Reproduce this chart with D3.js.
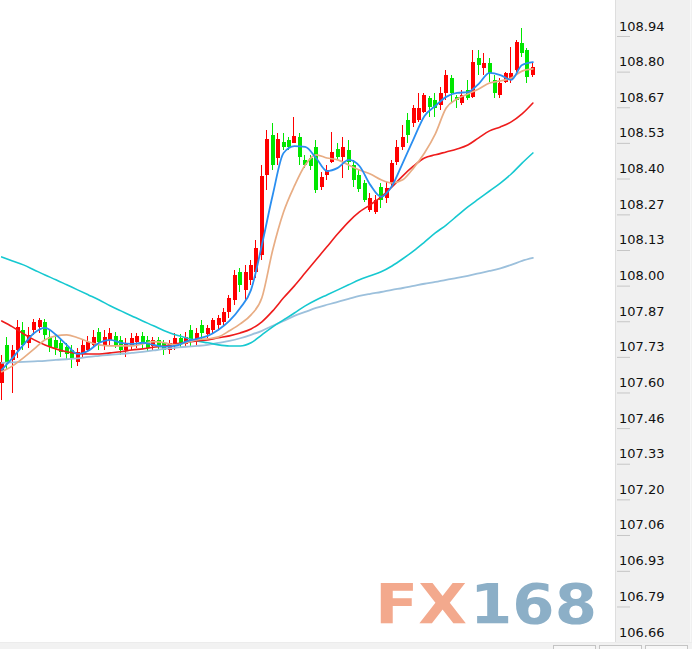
<!DOCTYPE html>
<html><head><meta charset="utf-8">
<script src="https://cdn.jsdelivr.net/npm/d3@7"></script>
<style>html,body{margin:0;padding:0;background:#fff;overflow:hidden}</style>
</head><body><svg id="c" width="692" height="649"></svg>
<script>
// ---- candle data (USD/JPY style, 99 bars) ----
const opens = [107.635,107.778,107.722,107.759,107.835,107.786,107.835,107.846,107.865,107.808,
107.797,107.786,107.771,107.759,107.714,107.748,107.759,107.778,107.827,107.778,
107.797,107.812,107.797,107.759,107.774,107.790,107.812,107.797,107.774,107.797,
107.786,107.759,107.774,107.805,107.782,107.835,107.797,107.853,107.820,107.835,
107.853,107.865,107.902,107.947,108.053,107.985,108.023,108.053,108.117,108.417,
108.568,108.481,108.541,108.549,108.538,108.560,108.474,108.481,108.523,108.372,
108.417,108.466,108.515,108.485,108.511,108.455,108.417,108.387,108.286,108.278,
108.372,108.331,108.387,108.466,108.523,108.624,108.613,108.624,108.654,108.707,
108.699,108.681,108.726,108.782,108.711,108.688,108.737,108.711,108.857,108.820,
108.838,108.775,108.718,108.767,108.775,108.812,108.914,108.887,108.793];
const highs = [107.741,107.808,107.778,107.872,107.865,107.846,107.876,107.880,107.876,107.835,
107.816,107.805,107.786,107.778,107.767,107.797,107.812,107.835,107.842,107.835,
107.842,107.827,107.812,107.805,107.823,107.823,107.827,107.812,107.808,107.808,
107.797,107.797,107.823,107.820,107.827,107.853,107.842,107.872,107.853,107.880,
107.891,107.917,107.966,108.060,108.068,108.079,108.098,108.173,108.455,108.587,
108.613,108.575,108.575,108.560,108.635,108.575,108.493,108.493,108.549,108.429,
108.455,108.579,108.538,108.560,108.549,108.474,108.436,108.399,108.350,108.342,
108.387,108.391,108.474,108.549,108.605,108.650,108.681,108.726,108.726,108.714,
108.726,108.748,108.812,108.793,108.718,108.737,108.775,108.887,108.887,108.876,
108.857,108.793,108.782,108.805,108.899,108.925,108.970,108.895,108.842];
const lows = [107.571,107.684,107.598,107.729,107.759,107.767,107.816,107.823,107.797,107.752,
107.741,107.733,107.722,107.692,107.699,107.729,107.752,107.767,107.759,107.759,
107.778,107.767,107.741,107.733,107.759,107.767,107.767,107.752,107.759,107.759,
107.741,107.744,107.759,107.767,107.771,107.771,107.778,107.797,107.805,107.823,
107.835,107.853,107.880,107.929,107.978,107.947,108.004,108.030,108.098,108.361,
108.436,108.455,108.511,108.511,108.538,108.455,108.444,108.436,108.350,108.361,
108.399,108.462,108.474,108.406,108.436,108.372,108.354,108.316,108.278,108.271,
108.293,108.312,108.372,108.455,108.511,108.538,108.598,108.617,108.650,108.635,
108.635,108.662,108.699,108.688,108.669,108.681,108.699,108.707,108.793,108.793,
108.767,108.707,108.707,108.763,108.763,108.805,108.861,108.763,108.786];
const closes = [107.714,107.714,107.759,107.846,107.778,107.816,107.865,107.872,107.816,107.771,
107.767,107.752,107.744,107.729,107.752,107.778,107.790,107.808,107.790,107.808,
107.823,107.778,107.759,107.786,107.805,107.812,107.782,107.767,107.797,107.771,
107.759,107.786,107.805,107.786,107.808,107.790,107.823,107.823,107.842,107.872,
107.880,107.902,107.955,108.041,108.004,108.053,108.079,108.143,108.414,108.553,
108.455,108.553,108.523,108.523,108.564,108.485,108.455,108.451,108.361,108.410,
108.436,108.504,108.485,108.523,108.466,108.399,108.365,108.323,108.331,108.323,
108.323,108.369,108.462,108.523,108.560,108.568,108.669,108.669,108.718,108.673,
108.669,108.726,108.793,108.726,108.699,108.718,108.707,108.842,108.831,108.838,
108.801,108.726,108.763,108.801,108.801,108.917,108.876,108.786,108.823];

// ---- moving averages, read at every second bar ----
const maIndex = [0,2,4,6,8,10,12,14,16,18,20,22,24,26,28,30,32,34,36,38,40,42,44,46,48,
50,52,54,56,58,60,62,64,66,68,70,72,74,76,78,80,82,84,86,88,90,92,94,96,98];
const ma5 = [107.684,107.729,107.778,107.823,107.842,107.816,107.778,107.744,107.756,107.786,
107.797,107.786,107.782,107.786,107.778,107.771,107.774,107.790,107.801,107.812,
107.835,107.868,107.917,107.985,108.154,108.342,108.500,108.526,108.523,108.481,
108.432,108.444,108.474,108.451,108.380,108.335,108.376,108.463,108.553,108.639,
108.677,108.711,108.726,108.729,108.760,108.801,108.793,108.775,108.831,108.842];
const ma10 = [107.677,107.699,107.729,107.763,107.797,107.812,107.816,107.805,107.790,107.778,
107.774,107.774,107.774,107.782,107.790,107.786,107.778,107.786,107.797,107.801,
107.808,107.831,107.857,107.891,107.955,108.135,108.278,108.376,108.455,108.493,
108.481,108.474,108.455,108.436,108.421,108.399,108.387,108.399,108.444,108.500,
108.572,108.669,108.703,108.722,108.741,108.763,108.771,108.782,108.808,108.816];
const ma20 = [107.868,107.846,107.820,107.797,107.778,107.763,107.752,107.746,107.744,107.744,
107.748,107.752,107.759,107.763,107.769,107.774,107.782,107.788,107.793,107.797,
107.805,107.812,107.823,107.838,107.865,107.906,107.955,108.000,108.049,108.098,
108.147,108.196,108.241,108.278,108.305,108.335,108.372,108.414,108.451,108.481,
108.493,108.504,108.515,108.530,108.557,108.583,108.598,108.617,108.647,108.688];
const ma60 = [108.109,108.094,108.079,108.060,108.041,108.023,108.004,107.985,107.966,107.947,
107.925,107.906,107.887,107.868,107.850,107.831,107.816,107.805,107.793,107.786,
107.778,107.774,107.774,107.786,107.816,107.846,107.872,107.898,107.925,107.947,
107.966,107.985,108.004,108.023,108.038,108.053,108.075,108.102,108.132,108.165,
108.199,108.229,108.263,108.297,108.327,108.357,108.387,108.421,108.462,108.500];
const ma120 = [107.710,107.712,107.714,107.716,107.718,107.722,107.724,107.727,107.733,107.737,
107.741,107.744,107.748,107.752,107.757,107.763,107.767,107.771,107.774,107.778,
107.786,107.793,107.803,107.816,107.831,107.850,107.868,107.887,107.902,107.917,
107.929,107.940,107.951,107.962,107.970,107.977,107.985,107.992,108.000,108.008,
108.015,108.023,108.030,108.038,108.047,108.056,108.066,108.079,108.094,108.105];

// ---- price axis ----
const tickValues = [108.940,108.806,108.672,108.538,108.404,108.269,108.135,108.001,107.867,
107.733,107.599,107.465,107.331,107.197,107.063,106.928,106.794,106.660];
const tickLabels = ["108.94","108.80","108.67","108.53","108.40","108.27","108.13","108.00","107.87",
"107.73","107.60","107.46","107.33","107.20","107.06","106.93","106.79","106.66"];

const W = 692, H = 649;
const svg = d3.select("#c");
svg.append("rect").attr("width", W).attr("height", H).attr("fill", "#fff");

const y = d3.scaleLinear().domain([106.66, 108.94]).range([642.1, 36]);
const x = d3.scaleLinear().domain([0, 98]).range([1.7, 532.9]);
const bars = opens.map((d, i) => i);

// watermark
const wm = svg.append("g").style("font-family", "'DejaVu Sans', sans-serif").style("font-weight", "bold");
wm.append("text").attr("x", 375).attr("y", 623).attr("font-size", 55)
  .attr("textLength", 92).attr("lengthAdjust", "spacingAndGlyphs")
  .attr("fill", "#f3a98d").text("FX");
wm.append("text").attr("x", 470).attr("y", 623).attr("font-size", 55)
  .attr("textLength", 127).attr("lengthAdjust", "spacingAndGlyphs")
  .attr("fill", "#8cafc7").text("168");

// candles
const UP = "#ff0000", DOWN = "#00e600";
const cg = svg.append("g").attr("shape-rendering", "crispEdges");
const cs = cg.selectAll("g.c").data(bars).join("g").attr("class", "c");
cs.append("line")
  .attr("x1", i => Math.round(x(i)) - 0.5).attr("x2", i => Math.round(x(i)) - 0.5)
  .attr("y1", i => y(highs[i])).attr("y2", i => y(lows[i]))
  .attr("stroke", i => closes[i] >= opens[i] ? UP : DOWN).attr("stroke-width", 1);
cs.append("rect")
  .attr("x", i => Math.round(x(i)) - 2).attr("width", 4)
  .attr("y", i => y(Math.max(opens[i], closes[i])))
  .attr("height", i => Math.max(1, Math.abs(y(opens[i]) - y(closes[i]))))
  .attr("fill", i => closes[i] >= opens[i] ? UP : DOWN);

// moving average lines
const line = d3.line().x((d, k) => x(maIndex[k])).y(d => y(d)).curve(d3.curveMonotoneX);
const maDefs = [
  {v: ma120, c: "#9cc0dc", w: 1.8},
  {v: ma60, c: "#16c8d0", w: 1.6},
  {v: ma20, c: "#ee1c1c", w: 1.6},
  {v: ma10, c: "#e8ad84", w: 1.7},
  {v: ma5, c: "#2a8ef0", w: 1.8}
];
svg.append("g").selectAll("path").data(maDefs).join("path")
  .attr("d", d => line(d.v)).attr("fill", "none")
  .attr("stroke", d => d.c).attr("stroke-width", d => d.w)
  .attr("stroke-linejoin", "round").attr("stroke-linecap", "round");

// right price panel
svg.append("rect").attr("x", 615).attr("y", 0).attr("width", 77).attr("height", H).attr("fill", "#f0f0f0");
svg.append("line").attr("x1", 615.5).attr("x2", 615.5).attr("y1", 0).attr("y2", H)
  .attr("stroke", "#dedede").attr("stroke-width", 1);
svg.append("line").attr("x1", 690.5).attr("x2", 690.5).attr("y1", 0).attr("y2", H)
  .attr("stroke", "#f8f8f8").attr("stroke-width", 1);

const ax = svg.append("g").attr("transform", "translate(617,0)")
  .call(d3.axisRight(y).tickValues(tickValues).tickFormat((d, i) => tickLabels[i]).tickSize(13));
ax.select(".domain").remove();
ax.selectAll(".tick line").attr("stroke", "#c6c6c6");
ax.selectAll(".tick text").attr("x", 2).attr("y", -6).attr("dy", 0)
  .attr("text-anchor", "start").attr("fill", "#111")
  .style("font-family", "'DejaVu Sans', sans-serif").style("font-size", "13px");

// bottom strip
svg.append("rect").attr("x", 0).attr("y", 642).attr("width", W).attr("height", 7).attr("fill", "#f2f2f2");
svg.append("line").attr("x1", 0).attr("x2", W).attr("y1", 642.5).attr("y2", 642.5).attr("stroke", "#ececec");
const tabs = [553, 599, 645];
svg.append("g").selectAll("rect").data(tabs).join("rect")
  .attr("x", d => d + 0.5).attr("y", 645.5).attr("width", 42).attr("height", 6)
  .attr("fill", "#f7f7f7").attr("stroke", "#c4c4c4");
</script></body></html>
